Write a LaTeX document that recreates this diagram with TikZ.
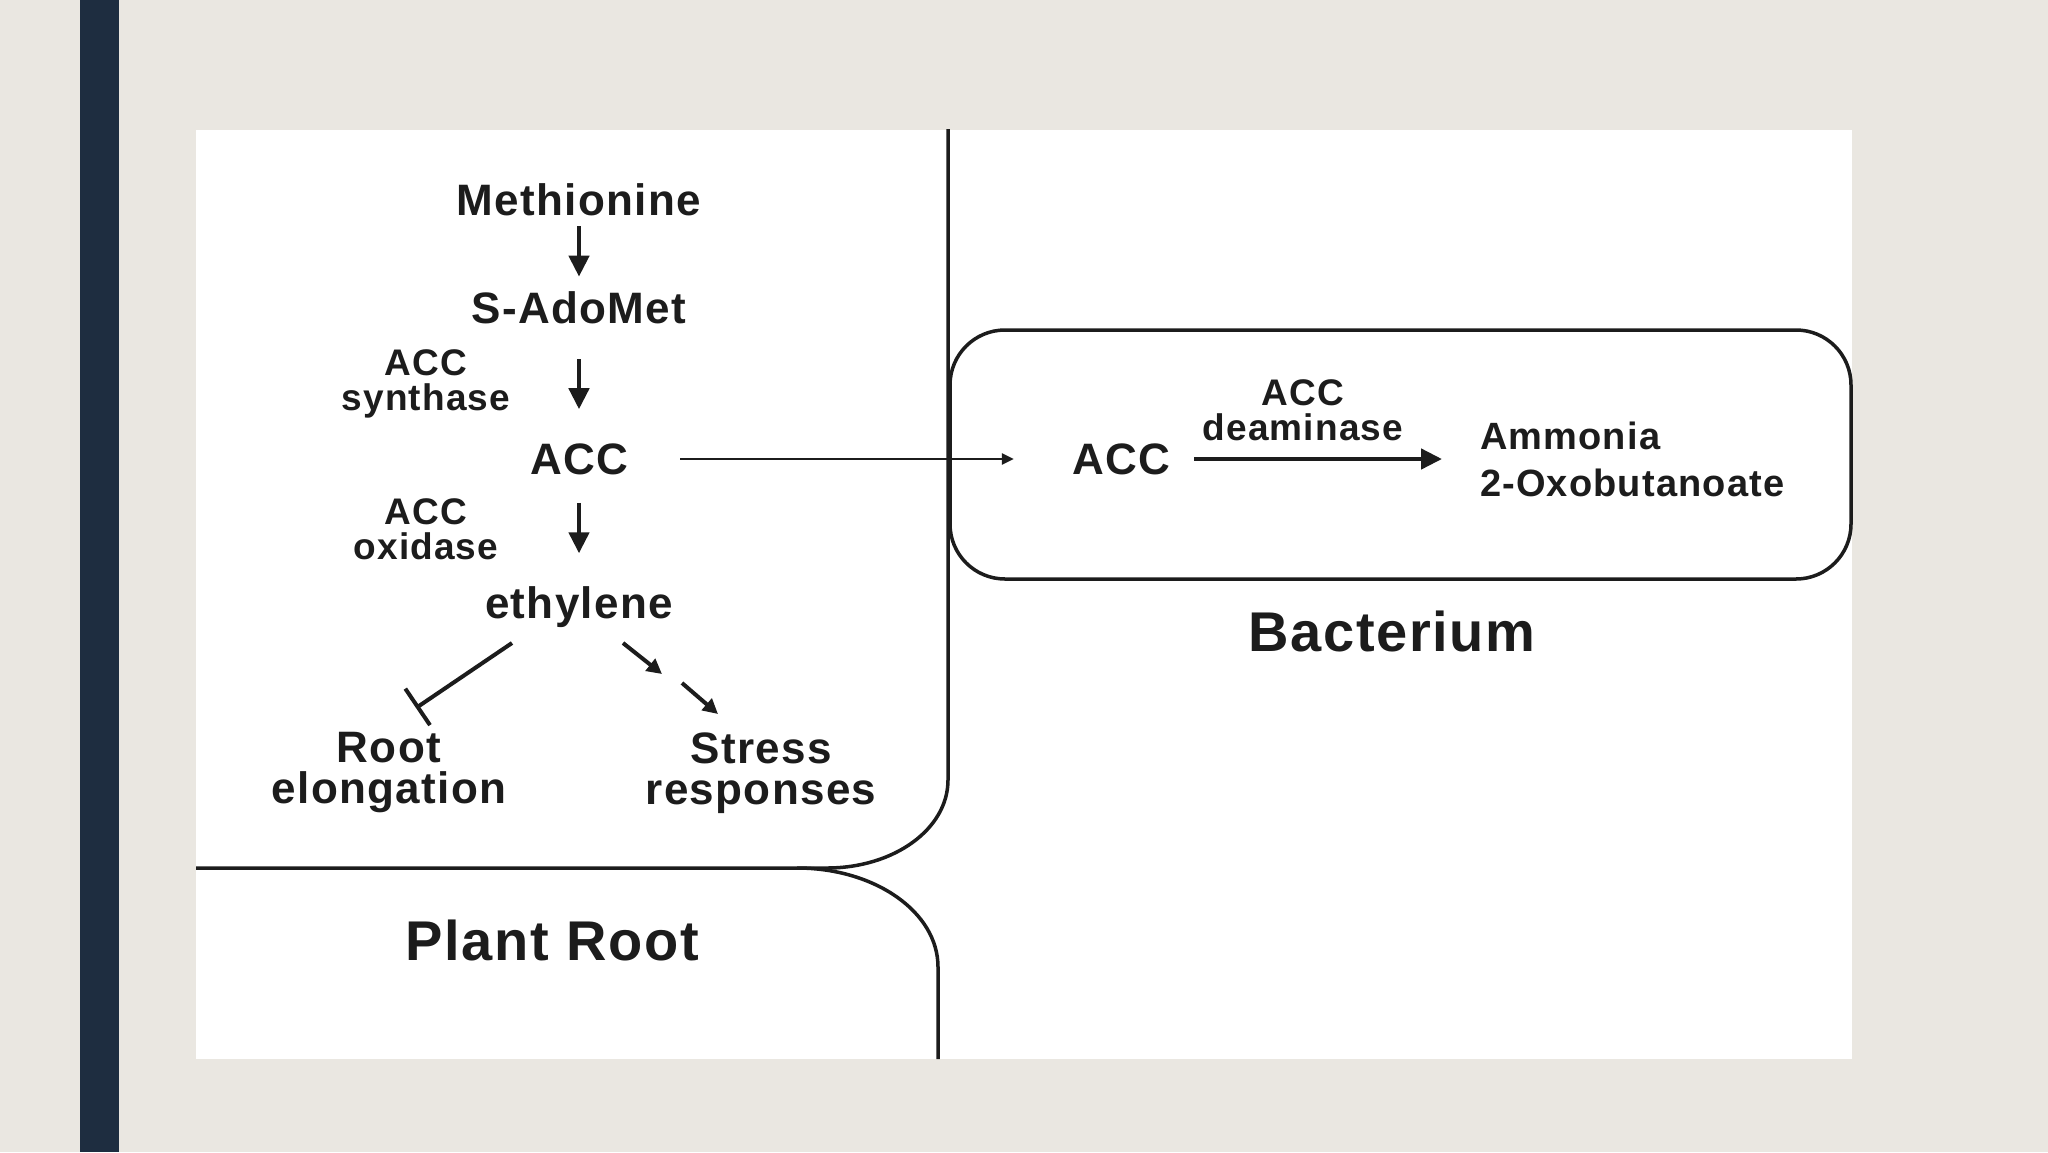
\documentclass[tikz,border=0pt]{standalone}
\usepackage{fontspec}
\setmainfont{Liberation Sans}[LetterSpace=3]
\usetikzlibrary{arrows.meta}
\definecolor{bg}{HTML}{EAE7E1}
\definecolor{barcol}{HTML}{1E2D40}
\definecolor{ink}{HTML}{1C1C1C}
\begin{document}
\begin{tikzpicture}[x=1pt,y=-1pt,
  lab/.style={font=\fontsize{44}{41}\selectfont\bfseries, text=ink, inner sep=0pt, align=center},
  enz/.style={font=\fontsize{37}{35}\selectfont\bfseries, text=ink, inner sep=0pt, align=center},
  prodlab/.style={font=\fontsize{38}{47}\selectfont\bfseries, text=ink, inner sep=0pt, align=left},
  biglab/.style={font=\fontsize{56}{60}\selectfont\bfseries, text=ink, inner sep=0pt},
  outline/.style={draw=ink, line width=3.5pt},
  steparrow/.style={draw=ink, line width=4.5pt, -{Triangle[length=21pt,width=20pt]}},
  thinarrow/.style={draw=ink, line width=2.5pt, -{Triangle[length=12pt,width=11pt]}},
  dasharrow/.style={draw=ink, line width=4pt, -{Triangle[length=15pt,width=15pt]}},
  inhib/.style={draw=ink, line width=4pt, -{Bar[width=44pt,line width=4pt]}}
]
\useasboundingbox (0,0) rectangle (2048,1152);
\fill[bg] (0,0) rectangle (2048,1152);
\fill[barcol] (80,0) rectangle (119,1152);
\fill[white] (196,130) rectangle (1852,1059);

% plant cell outlines
\draw[outline] (948,129) -- (948,780) .. controls (948,829) and (894,868) .. (827,868) -- (196,868);
\draw[outline] (797,868) .. controls (875,868) and (938,912) .. (938,967) -- (938,1059);
% bacterium
\draw[outline, rounded corners=55pt] (950,330) rectangle (1851,579);

% plant pathway
\node[lab] (meth) at (579,200) {Methionine};
\node[lab] (sado) at (579,308) {S-AdoMet};
\node[enz] (synth) at (426,384) {ACC\\synthase};
\node[lab] (acc) at (579,459) {ACC};
\node[enz] (oxid) at (426,529) {ACC\\oxidase};
\node[lab] (eth) at (579,607) {ethylene};
\node[lab] (root) at (389,773) {Root\\elongation};
\node[lab] (stress) at (761,773) {Stress\\responses};
\node[biglab] (plant) at (552,940) {Plant Root};

\draw[steparrow, shorten <=10pt, shorten >=15pt] (meth) -- (sado);
\draw[steparrow, shorten <=35pt, shorten >=34pt] (sado) -- (acc);
\draw[steparrow, shorten <=28pt, shorten >=33pt] (acc) -- (eth);

\coordinate (inhA) at (512,643);
\coordinate (inhB) at (416,708);
\draw[inhib] (inhA) -- (inhB);
\coordinate (dA) at (623,643);
\coordinate (dB) at (662,674);
\coordinate (dC) at (682,683);
\coordinate (dD) at (718,714);
\draw[dasharrow] (dA) -- (dB);
\draw[dasharrow] (dC) -- (dD);

% bacterium pathway
\node[lab] (bacc) at (1121,459) {ACC};
\node[enz] (deam) at (1303,410) {ACC\\deaminase};
\node[prodlab, anchor=west] (prod) at (1480,459) {Ammonia\\2-Oxobutanoate};
\node[biglab] (bact) at (1392,631) {Bacterium};

\draw[thinarrow, shorten <=52pt, shorten >=58pt] (acc) -- (bacc);
\draw[steparrow, shorten <=24pt, shorten >=38pt] (bacc) -- (prod.west |- bacc);
\end{tikzpicture}
\end{document}
